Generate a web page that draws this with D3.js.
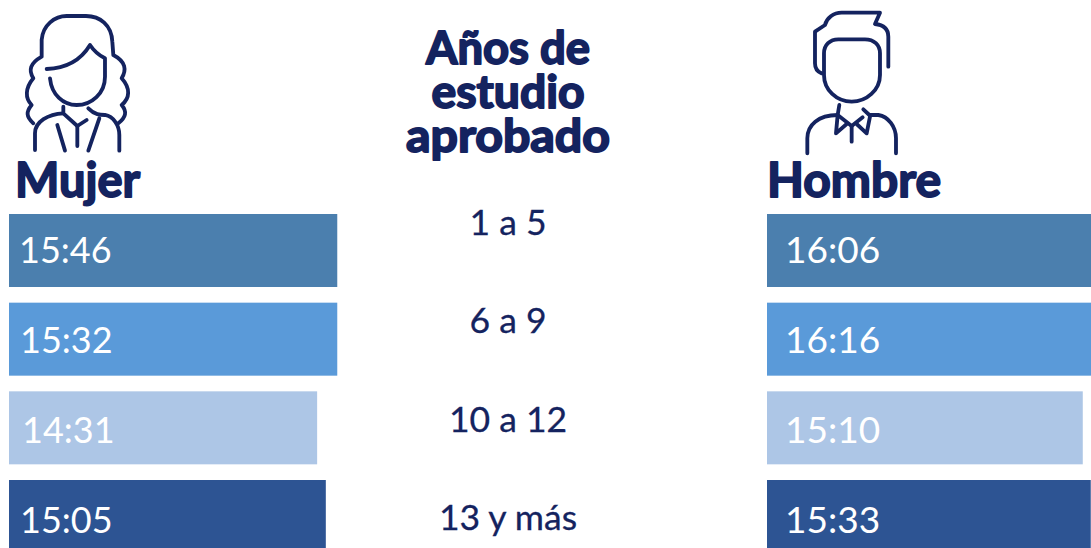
<!DOCTYPE html>
<html><head><meta charset="utf-8">
<script src="https://cdnjs.cloudflare.com/ajax/libs/d3/7.8.5/d3.min.js"></script>
<style>html,body{margin:0;padding:0;background:#fff;overflow:hidden}svg{display:block;font-family:Lato,sans-serif}</style>
</head><body><svg id="c" width="1091" height="548"></svg>
<script>
const categories = ["1 a 5","6 a 9","10 a 12","13 y más"];
const mujerLabels = ["15:46","15:32","14:31","15:05"];
const hombreLabels = ["16:06","16:16","15:10","15:33"];
// Bar lengths as drawn in the picture, in minutes on the bars' own scale
const mujerBars = [946,946,888,913];
const hombreBars = [966,976,910,933];
const barColors = ["#4b7fae","#5a9ad9","#adc6e6","#2d5493"];
const titleLines = ["Años de","estudio","aprobado"];

const navy="#14235f";
const svg=d3.select("#c");
const x=d3.scaleLinear().domain([0,1000]).range([0,347]);
const y=d3.scalePoint().domain(categories).range([214,480]);
const valueY=d3.scalePoint().domain(categories).range([262.5,533]);
const labelY=d3.scalePoint().domain(categories).range([235,530]);
const titleY=d3.scalePoint().domain(titleLines).range([64,152]);
const titleWidth=d3.scaleOrdinal().domain(titleLines).range([164,153,204]);

function side(x0,bars,labels,cls,labelX,fs){
  const g=svg.append("g").attr("class",cls);
  g.selectAll("rect").data(categories).join("rect")
    .attr("x",x0).attr("y",d=>y(d)).attr("width",(d,i)=>x(bars[i])).attr("height",73)
    .attr("fill",(d,i)=>barColors[i]);
  g.selectAll("text").data(categories).join("text")
    .attr("x",(d,i)=>labelX[i]).attr("y",d=>valueY(d))
    .attr("fill","#fff").attr("font-size",fs).text((d,i)=>labels[i]);
}
side(9,mujerBars,mujerLabels,"mujer",[19,20,22,20],36);
side(767,hombreBars,hombreLabels,"hombre",[785,785,785,785],37);

svg.append("g").selectAll("text").data(categories).join("text")
  .attr("x",508).attr("y",d=>labelY(d)).attr("text-anchor","middle")
  .attr("fill",navy).attr("font-size",35.5).attr("stroke",navy).attr("stroke-width",0.3).text(d=>d);

svg.append("g").selectAll("text").data(titleLines).join("text")
  .attr("x",508).attr("y",d=>titleY(d)).attr("text-anchor","middle")
  .attr("fill",navy).attr("font-size",46).attr("font-weight",700)
  .attr("textLength",d=>titleWidth(d)).attr("lengthAdjust","spacingAndGlyphs")
  .attr("stroke",navy).attr("stroke-width",1.9).attr("stroke-linejoin","round").text(d=>d);

[["Mujer",15,125],["Hombre",767,174]].forEach(([t,tx,w])=>
  svg.append("text").attr("x",tx).attr("y",197).attr("fill",navy).attr("font-size",47)
   .attr("textLength",w).attr("lengthAdjust","spacingAndGlyphs")
   .attr("font-weight",700).attr("stroke",navy).attr("stroke-width",1.8).attr("stroke-linejoin","round").text(t));

const woman=[
 "M100 370C78 350 78 335 95 315C75 295 75 265 100 235C85 210 90 190 125 170L125 120C128 75 165 48 200 48L258 48C300 48 335 75 337 125L340 165C378 185 380 210 365 235C392 265 390 295 365 315C382 335 378 352 355 370",
 "M140 207C190 205 240 185 270 135C280 150 295 165 315 175L315 230C315 280 275 315 230 315C190 315 155 285 150 235",
 "M190 320L190 340L232 378L260 360",
 "M105 450L105 400C105 365 145 342 190 340",
 "M265 325C285 345 300 345 315 345C340 350 358 375 358 405L358 452",
 "M172 375L195 452M232 378L232 438M298 355L265 452"];
const man=[
 "M215 220C200 215 195 205 195 190L195 95L225 75C230 55 250 38 275 38L390 38L375 72C405 75 415 90 415 110L415 200",
 "M222 160C222 135 240 118 265 118L345 118C372 118 390 135 390 160L390 225C390 270 350 305 305 305C260 305 222 270 222 225Z",
 "M268 315L263 345L305 378L338 352",
 "M172 460L172 415C172 375 205 345 263 345",
 "M340 328L358 345L385 345C415 350 438 380 438 415L438 460",
 "M263 345L258 400L290 372M320 372L350 400L360 350M305 378L305 425"];
function icon(paths,tx){
  svg.append("g").attr("transform",`translate(${tx},0) scale(0.3333)`)
   .attr("fill","none").attr("stroke",navy).attr("stroke-width",11.5)
   .attr("stroke-linecap","round").attr("stroke-linejoin","round")
   .selectAll("path").data(paths).join("path").attr("d",d=>d);
}
icon(woman,0);
icon(man,750);
</script></body></html>
